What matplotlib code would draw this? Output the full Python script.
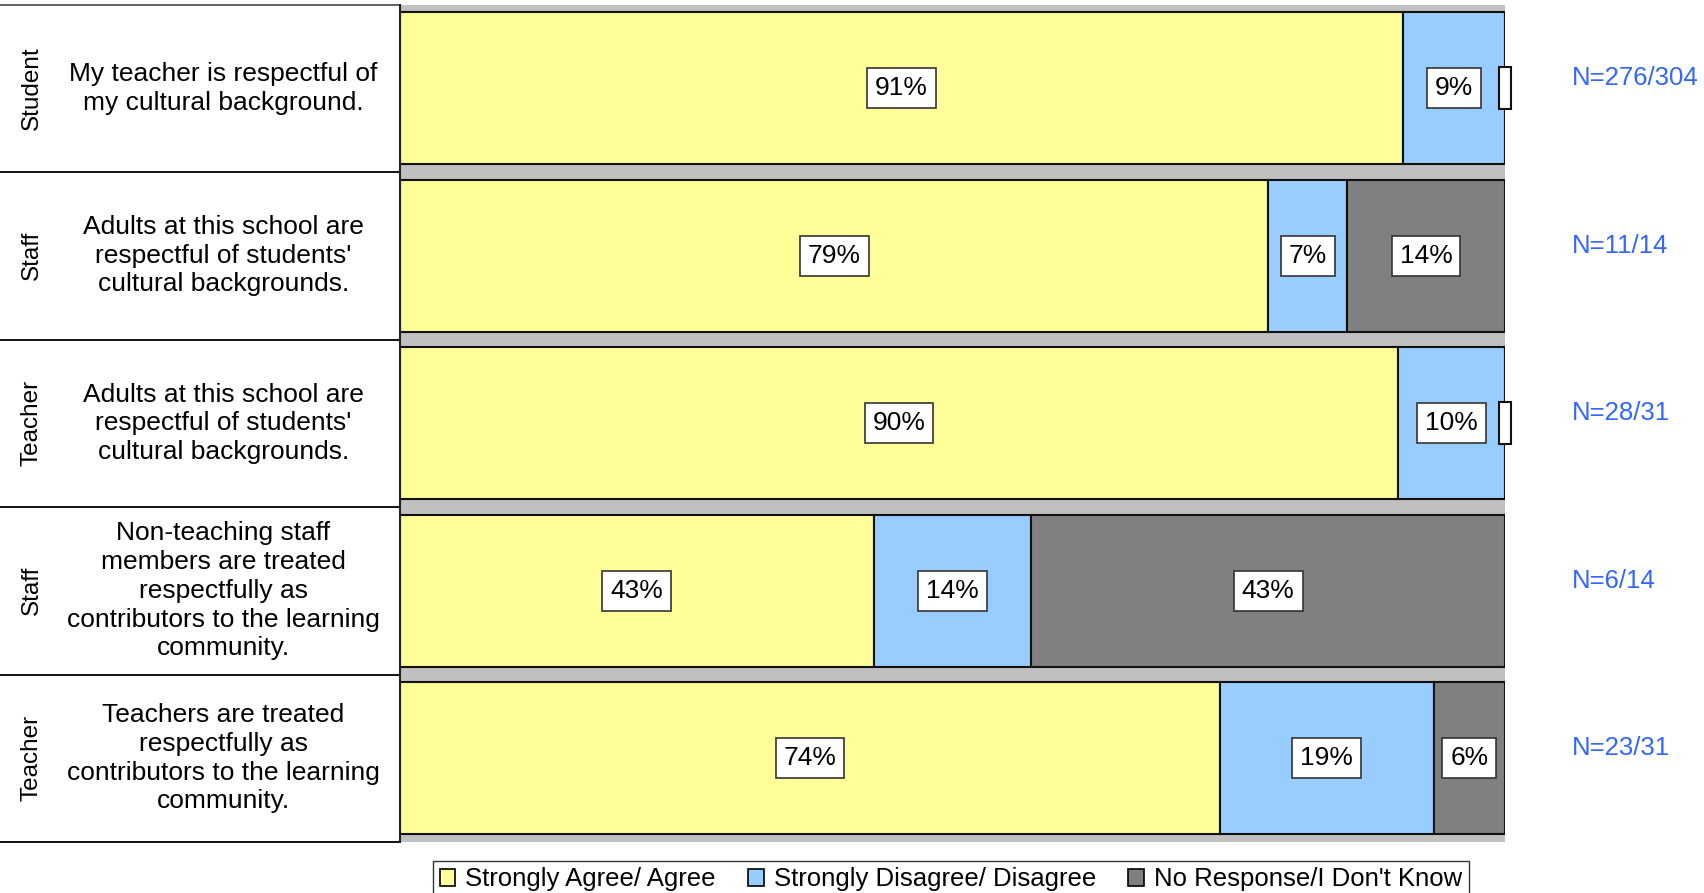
import matplotlib.pyplot as plt
import matplotlib.patches as mpatches
import matplotlib.transforms as mtransforms
import numpy as np

plt.rcParams['font.family'] = ['Liberation Sans', 'DejaVu Sans']

groups = ["Student", "Staff", "Teacher", "Staff", "Teacher"]
questions = [
    "My teacher is respectful of\nmy cultural background.",
    "Adults at this school are\nrespectful of students'\ncultural backgrounds.",
    "Adults at this school are\nrespectful of students'\ncultural backgrounds.",
    "Non-teaching staff\nmembers are treated\nrespectfully as\ncontributors to the learning\ncommunity.",
    "Teachers are treated\nrespectfully as\ncontributors to the learning\ncommunity.",
]
agree = [276, 11, 28, 6, 23]
disagree = [28, 1, 3, 2, 6]
no_response = [0, 2, 0, 6, 2]
totals = [304, 14, 31, 14, 31]

series_names = ["Strongly Agree/ Agree", "Strongly Disagree/ Disagree",
                "No Response/I Don't Know"]
colors = ["#FFFF99", "#99CCFF", "#808080"]

counts = np.array([agree, disagree, no_response], dtype=float)
pct = counts / np.array(totals) * 100

fig = plt.figure(figsize=(17.04, 8.93), dpi=100)
ax = fig.add_axes([400 / 1704, 1 - 842 / 893, 1105 / 1704, (842 - 4.5) / 893])
ax.set_facecolor("#C0C0C0")

y = np.arange(len(groups))
bar_h = 0.91
left = np.zeros(len(groups))
handles = []
for k in range(3):
    ax.barh(y, pct[k], left=left, height=bar_h, color=colors[k],
            edgecolor="#111111", linewidth=1.5, zorder=2)
    handles.append(mpatches.Patch(facecolor=colors[k], edgecolor="black",
                                  linewidth=1.2, label=series_names[k]))
    for i in range(len(groups)):
        if pct[k, i] > 0:
            ax.text(left[i] + pct[k, i] / 2, y[i], f"{pct[k, i]:.0f}%",
                    ha="center", va="center", fontsize=19, zorder=4,
                    bbox=dict(boxstyle="square,pad=0.3", facecolor="white",
                              edgecolor="#333333", linewidth=1.2))
        else:
            # empty label box for a zero segment at the bar end
            ax.add_patch(mpatches.Rectangle(
                (left[i] - 0.55, y[i] - 0.125), 1.1, 0.25,
                facecolor="white", edgecolor="#111111", linewidth=1.5,
                zorder=4, clip_on=False))
    left += pct[k]

ax.set_xlim(0, 100)
ax.set_ylim(len(groups) - 0.5, -0.5)
ax.set_xticks([])
ax.set_yticks([])
for s in ["top", "right", "bottom"]:
    ax.spines[s].set_visible(False)
ax.spines["left"].set_color("#222222")
ax.spines["left"].set_linewidth(1.5)

# left-hand label table
trans = mtransforms.blended_transform_factory(ax.transAxes, ax.transData)
bounds = np.arange(len(groups) + 1) - 0.5
for j, b in enumerate(bounds):
    ax.plot([-0.362, 0], [b, b], transform=trans, clip_on=False,
            color="#555555" if j == 0 else "black", linewidth=1.3)

for i in range(len(groups)):
    ax.text(-0.3335, y[i], groups[i], rotation=90, ha="center", va="center",
            fontsize=17.5, transform=trans)
    ax.text(-0.160, y[i], questions[i], ha="center", va="center",
            fontsize=19, linespacing=1.25, transform=trans)
    ax.text(1.0606, y[i] - 0.06, f"N={agree[i]}/{totals[i]}", ha="left",
            va="center", fontsize=18.5, color="#3366FF", transform=trans)

ax.legend(handles=handles, loc="upper center", bbox_to_anchor=(0.4986, -0.0227),
          ncol=3, fontsize=18.5, frameon=True, fancybox=False,
          edgecolor="black", handlelength=0.6, handleheight=0.6,
          handletextpad=0.4, columnspacing=1.25, borderpad=0.25,
          borderaxespad=0)

fig.savefig("out.png", dpi=100)
